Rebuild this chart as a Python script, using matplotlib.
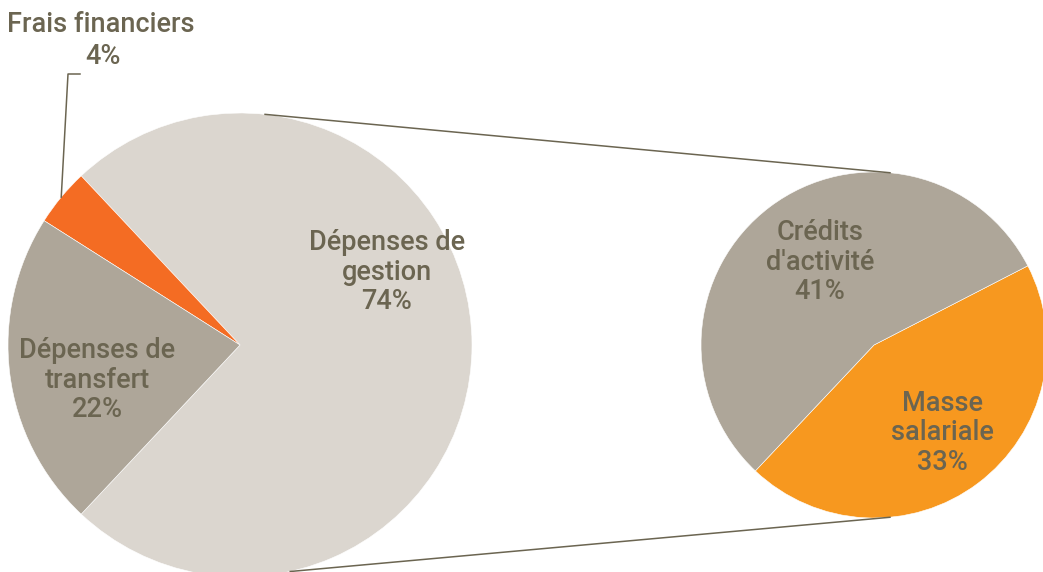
import matplotlib.pyplot as plt
import numpy as np

plt.rcParams['font.family'] = ['Roboto', 'DejaVu Sans']

# camembert principal
main_labels = ["Dépenses de\ngestion", "Frais financiers", "Dépenses de\ntransfert"]
main_values = [74, 4, 22]
main_colors = ["#DBD6CF", "#F46C23", "#AEA699"]

# détail des dépenses de gestion
sub_labels = ["Masse\nsalariale", "Crédits\nd'activité"]
sub_values = [33, 41]
sub_colors = ["#F7981F", "#AEA699"]

txt_color = "#6B6551"

fig = plt.figure(figsize=(10.43, 5.72), dpi=100)
ax = fig.add_axes([0, 0, 1, 1])

c1, r1 = (240, 227), 232
c2, r2 = (874, 227), 173

start1 = -main_values[0] / sum(main_values) * 180
ax.pie(main_values, colors=main_colors, center=c1, radius=r1, startangle=start1,
       wedgeprops=dict(edgecolor="white", linewidth=0.4), frame=True)

start2 = -133.3
ax.pie(sub_values, colors=sub_colors, center=c2, radius=r2, startangle=start2,
       wedgeprops=dict(edgecolor="white", linewidth=0.4), frame=True)
ax.set_xlim(0, 1043)
ax.set_ylim(0, 572)
ax.set_aspect("equal")
ax.axis("off")

# lignes de liaison
def pt(c, r, a):
    a = np.radians(a)
    return c[0] + r * np.cos(a), c[1] + r * np.sin(a)

p1 = pt(c1, r1, 83.8)
q1 = pt(c2, r2, 84.7)
ax.plot([p1[0], q1[0]], [p1[1], q1[1]], color=txt_color, lw=1.1)
p2 = pt(c1, r1, -77.5)
q2 = pt(c2, r2, -84.7)
ax.plot([p2[0], q2[0]], [p2[1], q2[1]], color=txt_color, lw=1.1)

fs = 19.5
kw = dict(color=txt_color, fontsize=fs, fontweight="medium", ha="center",
          va="center", linespacing=1.12)
ax.text(387, 300, f"{main_labels[0]}\n{main_values[0]}%", **kw)
ax.text(97, 192, f"{main_labels[2]}\n{main_values[2]}%", **kw)
ax.text(820, 310, f"{sub_labels[1]}\n{sub_values[1]}%", **kw)
ax.text(942, 139, f"{sub_labels[0]}\n{sub_values[0]}%", **kw)
ax.text(101, 547, main_labels[1], **kw)
ax.text(103, 515, f"{main_values[1]}%", **kw)

# trait de rappel frais financiers
fx, fy = pt(c1, r1, 140.4)
ax.plot([fx, 68, 80], [fy, 498, 498], color=txt_color, lw=1.1)

fig.savefig("out.png", dpi=100)
